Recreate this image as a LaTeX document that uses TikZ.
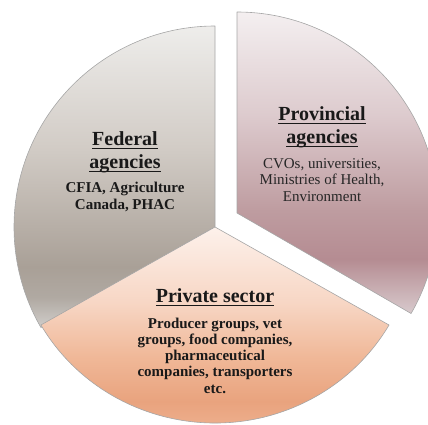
\documentclass[tikz,border=0pt]{standalone}
\usepackage{fontspec}
\setmainfont{Liberation Serif}
\definecolor{fedA}{HTML}{EEEDEB}
\definecolor{fedB}{HTML}{D2CCC6}
\definecolor{fedC}{HTML}{A9A097}
\definecolor{fedD}{HTML}{B0A9A2}
\definecolor{fedE}{HTML}{D0CDCA}
\definecolor{proA}{HTML}{F4EFF0}
\definecolor{proB}{HTML}{DDCBCE}
\definecolor{proC}{HTML}{BE9CA0}
\definecolor{proD}{HTML}{B58C92}
\definecolor{proE}{HTML}{D8CACD}
\definecolor{priA}{HTML}{FDF1EB}
\definecolor{priB}{HTML}{F7D6C4}
\definecolor{priC}{HTML}{F0B898}
\definecolor{priD}{HTML}{E9A37E}
\definecolor{priE}{HTML}{EFB493}
\definecolor{priF}{HTML}{F6D2BF}
\pgfdeclareverticalshading{fedshade}{100bp}{color(0bp)=(fedE); color(25bp)=(fedE); color(30bp)=(fedD); color(35bp)=(fedC); color(55bp)=(fedB); color(75bp)=(fedA); color(100bp)=(fedA)}
\pgfdeclareverticalshading{proshade}{100bp}{color(0bp)=(proE); color(25bp)=(proE); color(34bp)=(proD); color(42bp)=(proC); color(58bp)=(proB); color(75bp)=(proA); color(100bp)=(proA)}
\pgfdeclareverticalshading{prishade}{100bp}{color(0bp)=(priF); color(25bp)=(priF); color(28bp)=(priE); color(36bp)=(priD); color(46bp)=(priC); color(58bp)=(priB); color(75bp)=(priA); color(100bp)=(priA)}
\newcommand\ulx[1]{\leavevmode\setbox0\hbox{#1}\rlap{\rule[-3.6pt]{\wd0}{1.1pt}}\box0}
\tikzset{
  sector/.style={draw=black!35, line width=0.6pt, line join=round},
  title/.style={inner sep=0pt, align=center, text=black!90, font=\fontsize{20}{23}\selectfont\bfseries},
  bodyb/.style={inner sep=0pt, align=center, text=black!90, font=\fontsize{15}{16.3}\selectfont\bfseries},
  bodyr/.style={inner sep=0pt, align=center, text=black!85, font=\fontsize{15}{16.3}\selectfont}
}
\begin{document}
\begin{tikzpicture}[x=1pt, y=1pt]
\useasboundingbox (0,-425) rectangle (428,0);
\begin{scope}
\clip (0,-425) rectangle (428,0);
% Federal sector (90 to 210 degrees)
\path[sector, shading=fedshade] (215,-227) -- (215,-26) arc[start angle=90, end angle=210, radius=201] -- cycle;
% Private sector (210 to 330 degrees)
\path[sector, shading=prishade] (215,-227) -- (40.9,-325) arc[start angle=210, end angle=330, x radius=201, y radius=196] -- cycle;
% Provincial sector (exploded, -30 to 90 degrees)
\path[sector, shading=proshade] (237,-213) -- (237,-12) arc[start angle=90, end angle=-30, radius=201] -- cycle;
\end{scope}
\node[title] (fedT) at (125,-152) {\ulx{Federal}\\\ulx{agencies}};
\node[bodyb] (fedB) at (125,-197) {CFIA, Agriculture\\Canada, PHAC};
\node[title] (provT) at (322,-127) {\ulx{Provincial}\\\ulx{agencies}};
\node[bodyr] (provB) at (322,-180) {CVOs, universities,\\Ministries of Health,\\Environment};
\node[title] (privT) at (215,-297) {\ulx{Private sector}};
\node[bodyb] (privB) at (215,-355.5) {Producer groups, vet\\groups, food companies,\\pharmaceutical\\companies, transporters\\etc.};
\end{tikzpicture}
\end{document}
